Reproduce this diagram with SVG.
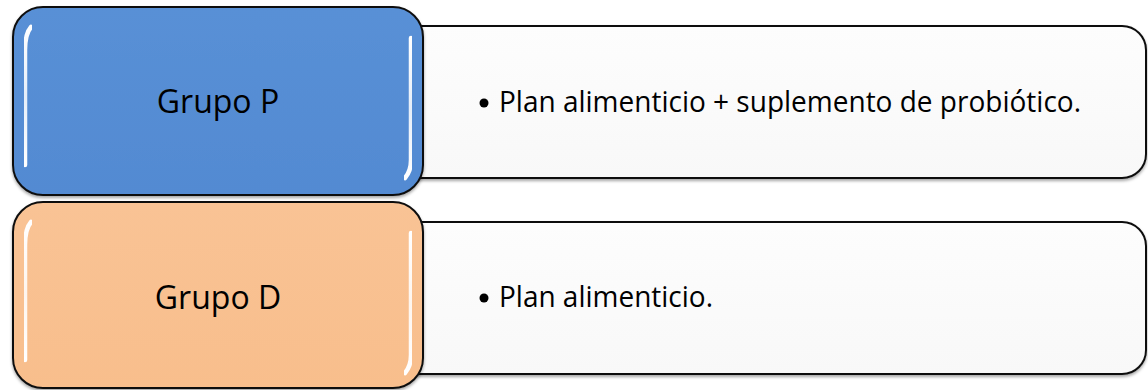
<svg xmlns="http://www.w3.org/2000/svg" width="1148" height="390" viewBox="0 0 1148 390">
<defs>
<linearGradient id="gBlue" x1="0" y1="0" x2="0" y2="1">
<stop offset="0" stop-color="#5990D6"/><stop offset="1" stop-color="#528AD2"/>
</linearGradient>
<linearGradient id="gOrange" x1="0" y1="0" x2="0" y2="1">
<stop offset="0" stop-color="#F9C395"/><stop offset="1" stop-color="#F8BE8C"/>
</linearGradient>
<linearGradient id="gWhite" x1="0" y1="0" x2="0" y2="1">
<stop offset="0" stop-color="#FDFDFD"/><stop offset="1" stop-color="#F8F8F8"/>
</linearGradient>
<linearGradient id="gHi" x1="0" y1="0" x2="0" y2="1">
<stop offset="0" stop-color="#FFFFFF" stop-opacity="1"/><stop offset="0.5" stop-color="#FFFFFF" stop-opacity="0.85"/><stop offset="1" stop-color="#FFFFFF" stop-opacity="1"/>
</linearGradient>
<filter id="sh" x="-5%" y="-10%" width="110%" height="125%">
<feDropShadow dx="0" dy="2" stdDeviation="1.5" flood-color="#000" flood-opacity="0.35"/>
</filter>
<filter id="blur"><feGaussianBlur stdDeviation="0.7"/></filter>
</defs>
<style>
.box{stroke:#111;stroke-width:2;filter:url(#sh)}
.hi{fill:none;stroke:url(#gHi);stroke-width:4.5;stroke-linecap:round;filter:url(#blur)}
.lbl{font-family:"Open Sans","Noto Sans",sans-serif;font-size:32px;fill:#000;text-anchor:middle}
.txt{font-family:"Open Sans","Noto Sans",sans-serif;font-size:29px;fill:#000}
</style>
<g id="desc-P">
<rect class="box" x="330" y="26" width="816" height="152" rx="24" fill="url(#gWhite)"/>
<circle cx="484" cy="103" r="4.5" fill="#000"/>
<text class="txt" x="499" y="112" textLength="582" lengthAdjust="spacingAndGlyphs">Plan alimenticio + suplemento de probiótico.</text>
</g>
<g id="desc-D">
<rect class="box" x="330" y="222" width="816" height="152" rx="24" fill="url(#gWhite)"/>
<circle cx="484" cy="298" r="4.5" fill="#000"/>
<text class="txt" x="499" y="307" textLength="214" lengthAdjust="spacingAndGlyphs">Plan alimenticio.</text>
</g>
<g id="grupo-P">
<rect class="box" x="13" y="7" width="410" height="188" rx="30" fill="url(#gBlue)"/>
<path class="hi" d="M31,27 Q25,34 25,50 L25,165"/>
<path class="hi" d="M411,38 L411,160 Q411,171 405,178"/>
<text class="lbl" x="218" y="113">Grupo P</text>
</g>
<g id="grupo-D">
<rect class="box" x="13" y="202" width="410" height="186" rx="30" fill="url(#gOrange)"/>
<path class="hi" d="M31,222 Q25,229 25,245 L25,360"/>
<path class="hi" d="M411,233 L411,355 Q411,366 405,373"/>
<text class="lbl" x="218" y="309">Grupo D</text>
</g>
<g id="connectors"></g>
</svg>
